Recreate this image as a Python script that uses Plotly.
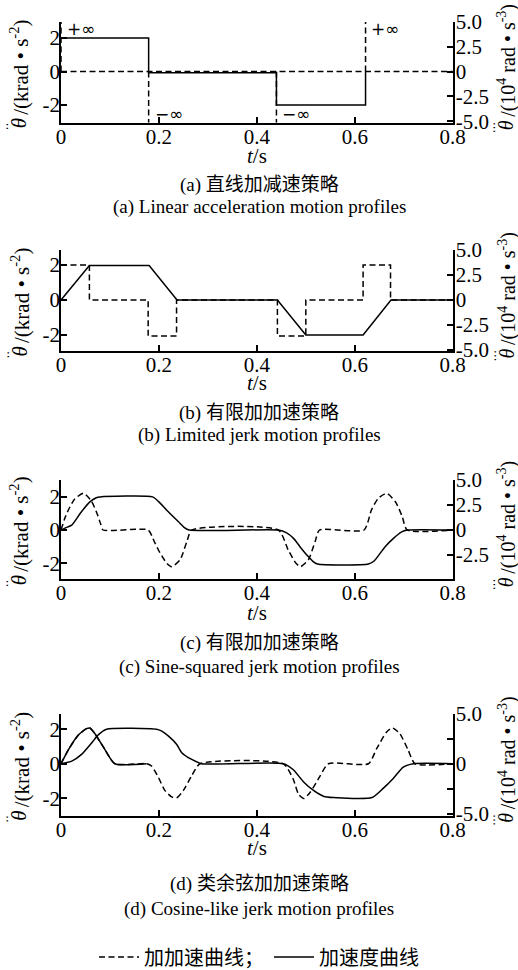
import plotly.graph_objects as go

# ---------------- data ----------------
# (a) linear acceleration
t_a_acc = [0, 0.179, 0.179, 0.44, 0.44, 0.622, 0.622]
acc_a = [2, 2, -0.08, -0.08, -2, -2, 0]
t_a_jerk = [0, 0.8]
jerk_a = [0, 0]
t_a_imp = [0, 0.179, 0.44, 0.622]
dir_a_imp = [1, -1, -1, 1]          # +inf / -inf impulses
lab_a_imp = ["+∞", "−∞", "−∞", "+∞"]

# (b) limited jerk
t_b_acc = [0, 0.058, 0.18, 0.237, 0.442, 0.5, 0.617, 0.674, 0.8]
acc_b = [0, 1.97, 1.97, 0, 0, -2.0, -2.0, 0, 0]
t_b_jerk = [0, 0.058, 0.058, 0.178, 0.178, 0.236, 0.236, 0.442, 0.442, 0.5, 0.5,
            0.617, 0.617, 0.673, 0.673, 0.8]
jerk_b = [3.5, 3.5, 0, 0, -3.6, -3.6, 0, 0, -3.6, -3.6, 0, 0, 3.5, 3.5, 0, 0]

# (c) sine-squared jerk
t_c_acc = [0, 0.008, 0.022, 0.039, 0.059, 0.072, 0.08, 0.187, 0.2, 0.216, 0.24,
           0.252, 0.262, 0.444, 0.46, 0.475, 0.488, 0.505, 0.515, 0.524, 0.628,
           0.64, 0.662, 0.679, 0.695, 0.708, 0.8]
acc_c = [0, 0.12, 0.3, 1.0, 1.7, 1.95, 2.0, 2.0, 1.7, 1.2, 0.5, 0.15, 0, 0,
         -0.15, -0.5, -1.0, -1.6, -1.9, -2.05, -2.05, -1.85, -1.0, -0.5, -0.12, 0, 0]
t_c_jerk = [0, 0.008, 0.016, 0.028, 0.046, 0.062, 0.074, 0.081, 0.086,
            0.178, 0.19, 0.199, 0.216, 0.226, 0.243, 0.257, 0.267,
            0.444, 0.464, 0.48, 0.489, 0.505, 0.519, 0.528,
            0.619, 0.634, 0.648, 0.665, 0.683, 0.697, 0.707, 0.8]
jerk_c = [0, 1.2, 2.1, 3.1, 3.67, 2.9, 1.6, 0.6, 0,
          0, -1.1, -2.0, -3.33, -3.67, -3.0, -1.17, 0,
          0, -2.0, -3.33, -3.67, -3.0, -1.17, 0,
          0, 2.0, 3.17, 3.67, 2.83, 1.33, 0, 0]

# (d) cosine-like jerk
t_d_acc = [0, 0.022, 0.042, 0.063, 0.076, 0.093, 0.195, 0.205, 0.219, 0.236,
           0.2465, 0.267, 0.287, 0.454, 0.4745, 0.495, 0.515, 0.536, 0.556,
           0.635, 0.658, 0.679, 0.699, 0.72, 0.8]
acc_d = [0, 0.15, 0.54, 1.22, 1.67, 2.0, 2.0, 1.9, 1.61, 1.13, 0.64, 0.25, 0,
         0, -0.35, -1.04, -1.53, -1.88, -1.96, -1.96, -1.43, -0.84, -0.2, 0, 0]
t_d_jerk = [0, 0.015, 0.035, 0.052, 0.059, 0.069, 0.09, 0.11, 0.175,
            0.185, 0.199, 0.212, 0.226, 0.236, 0.25, 0.267, 0.284,
            0.454, 0.4745, 0.485, 0.496, 0.5086, 0.529, 0.546,
            0.628, 0.645, 0.665, 0.677, 0.692, 0.709, 0.723, 0.8]
jerk_d = [0, 1.4, 2.87, 3.53, 3.59, 3.04, 1.4, 0, 0,
          -0.23, -1.37, -2.68, -3.33, -3.43, -2.68, -1.2, 0,
          0, -1.58, -3.06, -3.49, -2.89, -1.25, 0,
          0, 1.55, 3.19, 3.59, 3.03, 1.38, 0, 0]
t_d_solid_end = 0.175   # first jerk hump printed with a solid line

x_ticks = [0, 0.2, 0.4, 0.6, 0.8]
x_ticktext = ["0", "0.2", "0.4", "0.6", "0.8"]
left_ticks = [-2, 0, 2]
left_ticktext = ["-2", "0", "2"]
right_ticks = [-5, -2.5, 0, 2.5, 5]
right_ticktext = ["-5.0", "-2.5", "0", "2.5", "5.0"]
right_ticktext_d = ["-5.0", " ", "0", " ", "5.0"]

captions_cn = ["(a) 直线加减速策略", "(b) 有限加加速策略", "(c) 有限加加速策略", "(d) 类余弦加加速策略"]
captions_en = ["(a) Linear acceleration motion profiles", "(b) Limited jerk motion profiles",
               "(c) Sine-squared jerk motion profiles", "(d) Cosine-like jerk motion profiles"]
legend_names = ["加加速曲线；", "加速度曲线"]
left_unit = "/(krad • s<sup>-2</sup>)"
right_unit = "/(10<sup>4</sup> rad • s<sup>-3</sup>)"

# ---------------- layout geometry ----------------
W, H = 518, 970
X0, X1 = 61, 452.7
panels_px = [(22, 122.7), (250, 351), (479.5, 579), (714, 815.5)]
left_ranges = [[-3.05, 2.95], [-2.92, 2.86], [-2.95, 3.05], [-3.0, 2.88]]
right_ranges = [[-5.15, 5.0], [-5.1, 5.0], [-4.9, 5.05], [-5.2, 5.0]]
title_y = [156, 383, 613, 848]
cn_y = [185, 413, 643, 884]
en_y = [207, 435, 667, 909]
legend_y = 957

SERIF = "Liberation Serif, Noto Sans CJK SC, serif"
CJK = "Liberation Serif, Noto Sans CJK SC, sans-serif"

def py(p):
    return 1 - p / H

def px(p):
    return p / W

fig = go.Figure()
LW = 1.5
DASH = "6px,3.5px"

def add(i, x, y, dash=None, right=False, name=None, legend=False, shape="linear"):
    xa = "x" if i == 0 else f"x{i+1}"
    ya = f"y{2*i+2}" if right else ("y" if i == 0 else f"y{2*i+1}")
    fig.add_trace(go.Scatter(x=x, y=y, mode="lines", xaxis=xa, yaxis=ya,
                             line=dict(color="black", width=LW, dash=dash, shape=shape,
                                       smoothing=0.6 if shape == "spline" else None),
                             name=name, showlegend=legend, hoverinfo="skip"))

# (a)
add(0, t_a_jerk, jerk_a, dash=DASH, right=True)
for t, d in zip(t_a_imp, dir_a_imp):
    end = right_ranges[0][1] if d > 0 else right_ranges[0][0]
    add(0, [t, t], [0, end], dash=DASH, right=True)
add(0, t_a_acc, acc_a)

# (b)
add(1, t_b_jerk, jerk_b, dash=DASH, right=True, name=legend_names[0], legend=True)
add(1, t_b_acc, acc_b, name=legend_names[1], legend=True)

# (c)
add(2, t_c_jerk, jerk_c, dash=DASH, right=True, shape="spline")
add(2, t_c_acc, acc_c, shape="spline")

# (d)
add(3, t_d_jerk, jerk_d, dash=DASH, right=True, shape="spline")
sx = [t for t in t_d_jerk if t <= t_d_solid_end]
sy = [v for t, v in zip(t_d_jerk, jerk_d) if t <= t_d_solid_end]
add(3, sx, sy, right=True, shape="spline")
add(3, t_d_acc, acc_d, shape="spline")

tickfont = dict(family=SERIF, size=21, color="black")
layout = dict(width=W, height=H, autosize=False, template="none",
              margin=dict(l=0, r=0, t=0, b=0, pad=0, autoexpand=False),
              paper_bgcolor="white", plot_bgcolor="white",
              showlegend=True,
              legend=dict(orientation="h", x=0.5, xanchor="center", y=py(legend_y), yanchor="middle",
                          font=dict(family=CJK, size=20, color="black"),
                          itemwidth=40, tracegroupgap=0, bgcolor="rgba(0,0,0,0)"))
annotations = []
ax_common = dict(showgrid=False, zeroline=False, showline=True, linecolor="black", linewidth=1.8,
                 ticks="inside", ticklen=6, tickwidth=1.5, tickcolor="black", tickfont=tickfont,
                 automargin=False)
tfont = dict(family=SERIF, size=21, color="black")
rfont = dict(family=SERIF, size=20, color="black")
dfont = dict(family="DejaVu Sans", size=12, color="black")

def ann(x, y, text, font, xanchor="center", yanchor="middle", angle=0):
    annotations.append(dict(xref="paper", yref="paper", x=px(x), y=py(y), text=text,
                            showarrow=False, xanchor=xanchor, yanchor=yanchor,
                            textangle=angle, font=font))

for i, (ptop, pbot) in enumerate(panels_px):
    xk = "xaxis" if i == 0 else f"xaxis{i+1}"
    ylk = "yaxis" if i == 0 else f"yaxis{2*i+1}"
    yrk = f"yaxis{2*i+2}"
    yl = "y" if i == 0 else f"y{2*i+1}"
    xl = "x" if i == 0 else f"x{i+1}"
    dom_y = [py(pbot), py(ptop)]
    layout[xk] = dict(ax_common, domain=[X0 / W, X1 / W], range=[0, 0.8], anchor=yl,
                      tickvals=x_ticks, ticktext=x_ticktext, ticklabelstandoff=-6)
    layout[ylk] = dict(ax_common, domain=dom_y, range=left_ranges[i], anchor=xl,
                       tickvals=left_ticks, ticktext=left_ticktext, ticklabelstandoff=-5)
    layout[yrk] = dict(ax_common, range=right_ranges[i], anchor=xl, overlaying=yl, side="right",
                       tickvals=right_ticks,
                       ticktext=right_ticktext_d if i == 3 else right_ticktext,
                       ticklabelstandoff=-3)
    cy = (ptop + pbot) / 2
    # left axis title: theta with two dots + unit
    lb = cy + 45
    ann(20, lb, left_unit, tfont, yanchor="bottom", angle=-90)
    ann(19, lb - 1, "<i>θ</i>", tfont, yanchor="top", angle=-90)
    ann(8, lb + 9, "··", dfont, angle=-90)
    # right axis title: theta with three dots + unit
    rb = cy + 47
    ann(507, rb, right_unit, rfont, yanchor="bottom", angle=-90)
    ann(506, rb - 1, "<i>θ</i>", rfont, yanchor="top", angle=-90)
    ann(495, rb + 9, "···", dfont, angle=-90)
    ann((X0 + X1) / 2, title_y[i], "<i>t</i>/s", tfont)
    ann(259, cn_y[i], captions_cn[i], dict(family=CJK, size=19, color="black"))
    ann(259, en_y[i], captions_en[i], dict(family=SERIF, size=19, color="black"))

for t, d, lab in zip(t_a_imp, dir_a_imp, lab_a_imp):
    annotations.append(dict(xref="x", yref="y", x=t + 0.008, y=2.55 * d, text=lab, showarrow=False,
                            xanchor="left", yanchor="middle",
                            font=dict(family="DejaVu Sans", size=17, color="black")))

layout["annotations"] = annotations
fig.update_layout(**layout)
fig.write_html("out.html", config={"displayModeBar": False},
               post_script="document.body.style.margin='0';document.body.style.padding='0';")
